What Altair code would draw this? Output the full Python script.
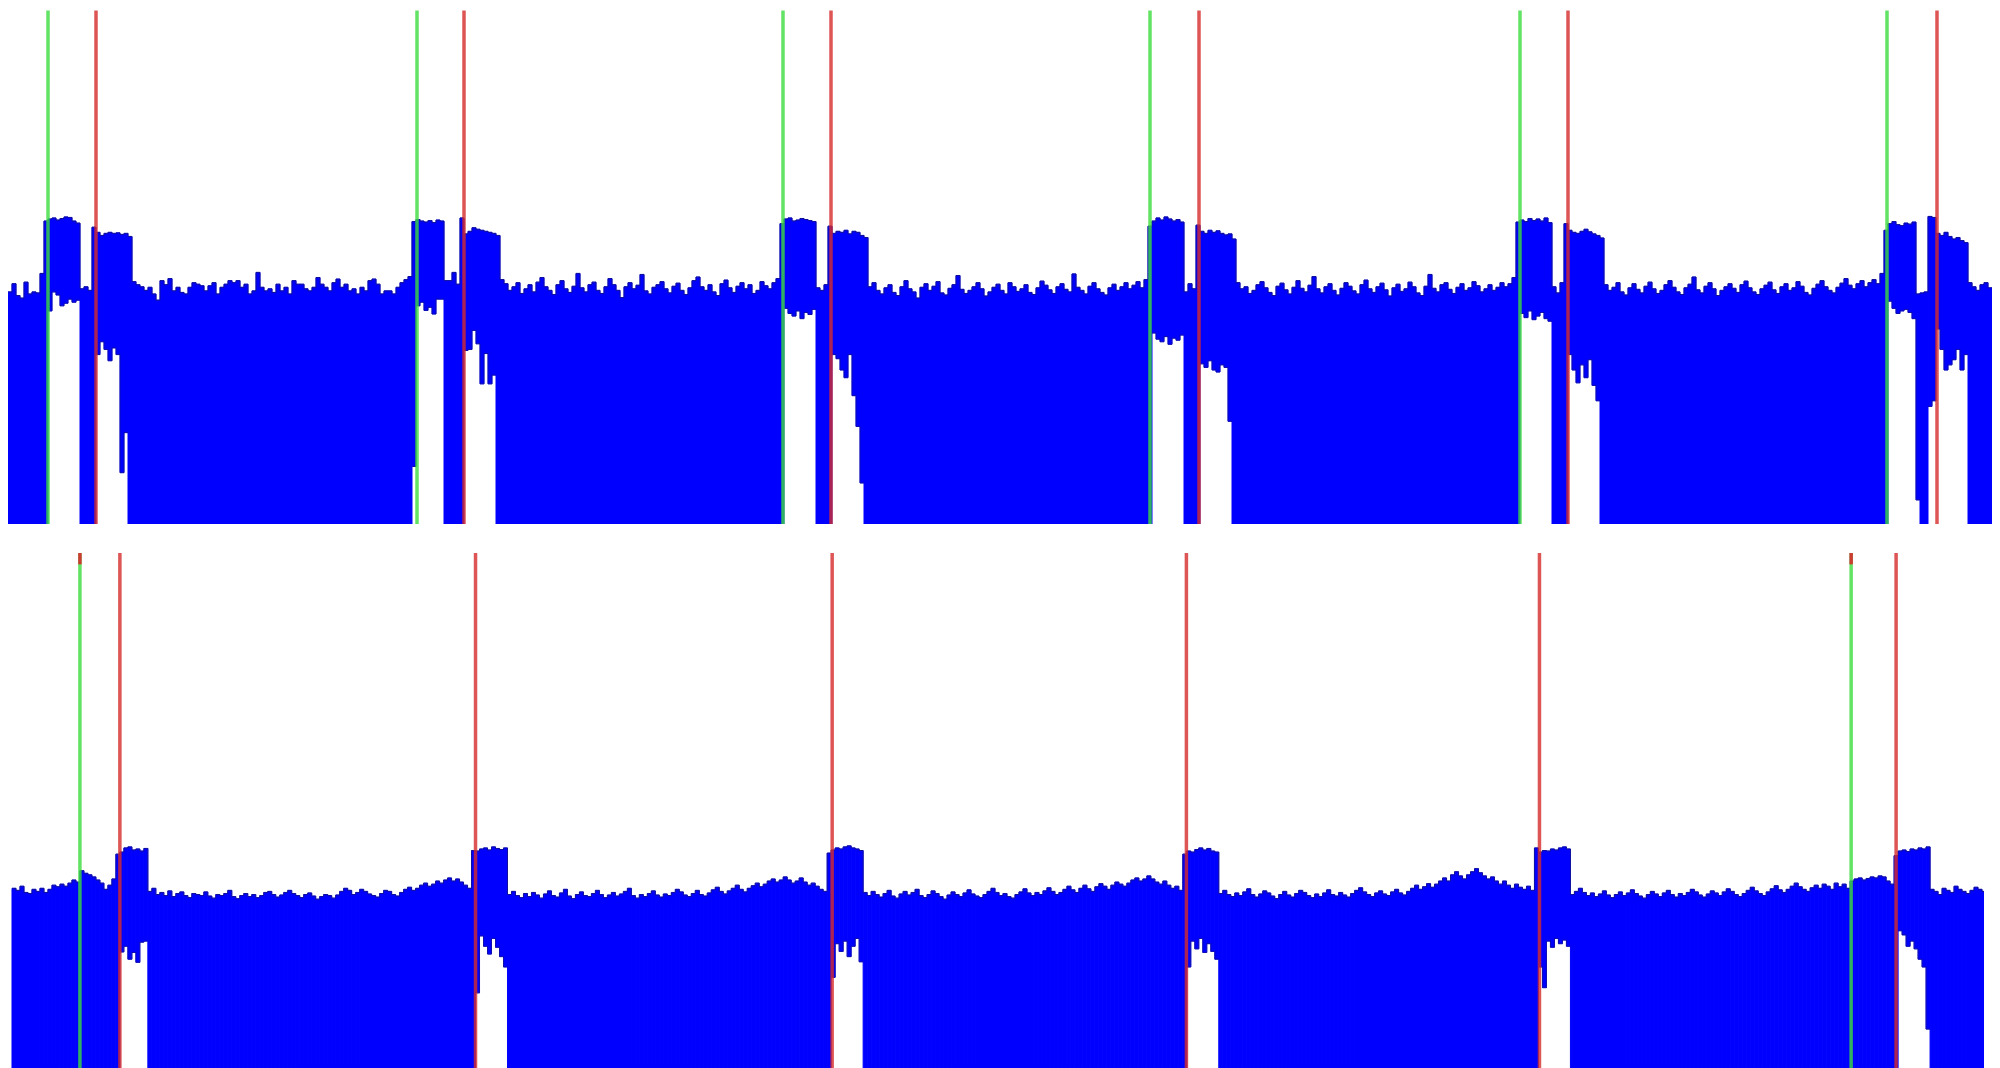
import altair as alt
import pandas as pd

# ---------------- TOP PANEL (signal units 0..1000) ----------------
top_noise0 = [452, 468, 445, 440, 471, 448, 452, 450, 488]
top_noise1 = [472, 466, 462, 455, 461, 448, 436, 474, 466, 478,
              454, 461, 451, 448, 461, 470, 467, 464, 454, 464,
              470, 448, 461, 467, 474, 470, 474, 461, 467, 448,
              454, 490, 461, 454, 458, 451, 467, 454, 461, 448,
              474, 467, 467, 458, 454, 461, 480, 467, 461, 454,
              470, 477, 461, 467, 454, 458, 448, 461, 454, 474,
              477, 467, 448, 454, 454, 448, 461, 470, 476, 482]
top_noise2 = [476, 468, 455, 462, 470, 449, 458, 466, 452, 471,
              480, 462, 455, 447, 466, 474, 458, 451, 463, 488,
              460, 452, 466, 471, 455, 449, 462, 478, 466, 455,
              441, 462, 470, 458, 465, 486, 454, 448, 461, 466,
              472, 458, 450, 463, 469, 455, 447, 460, 474, 481,
              462, 455, 466, 452, 445, 468, 475, 460, 451, 463,
              470, 458, 466, 449, 455, 472, 464, 458, 470, 478]
top_noise3 = [462, 470, 455, 448, 460, 466, 451, 445, 462, 474,
              458, 452, 440, 461, 468, 455, 463, 472, 450, 446,
              459, 466, 484, 457, 449, 455, 462, 470, 458, 444,
              452, 461, 467, 455, 448, 470, 462, 453, 458, 466,
              451, 447, 460, 473, 465, 456, 449, 462, 468, 457,
              452, 487, 461, 455, 448, 463, 470, 458, 451, 446,
              460, 467, 455, 462, 470, 458, 465, 472, 460, 476]
top_noise4 = [470, 458, 462, 449, 455, 466, 472, 460, 451, 445,
              463, 469, 456, 448, 461, 474, 459, 452, 465, 482,
              458, 450, 462, 468, 455, 446, 459, 470, 463, 454,
              448, 466, 475, 458, 451, 462, 469, 456, 444, 460,
              467, 453, 458, 471, 462, 450, 445, 463, 486, 459,
              452, 466, 470, 457, 449, 461, 468, 455, 460, 472,
              464, 452, 458, 466, 455, 461, 470, 462, 468, 480]
top_noise5 = [466, 455, 461, 470, 452, 446, 460, 468, 457, 450,
              463, 471, 458, 449, 455, 466, 474, 461, 452, 447,
              460, 467, 481, 456, 450, 463, 470, 458, 445, 455,
              462, 468, 459, 451, 466, 473, 460, 452, 447, 458,
              465, 471, 456, 449, 462, 468, 455, 460, 472, 463,
              451, 446, 459, 467, 474, 462, 455, 450, 461, 469,
              478, 465, 458, 468, 474, 462, 470, 476, 468, 488]
top_noise6 = [462, 455, 466, 470, 460]

# transitions around each green/red pair: upper and lower envelope
top_t1_hi = [590, 594, 596, 592, 595, 598, 597, 590, 586, 458, 462, 455, 578,
             568, 562, 566, 568, 566, 567, 564, 566, 560]
top_t1_lo = [0, 415, 452, 446, 425, 430, 438, 432, 436, 0, 0, 0, 0,
             330, 355, 340, 318, 343, 330, 100, 178, 0]
top_t2_hi = [589, 593, 590, 588, 591, 587, 592, 590, 474, 474, 490, 467, 596,
             565, 570, 577, 574, 572, 570, 568, 566, 562]
top_t2_lo = [112, 425, 432, 416, 422, 409, 438, 438, 0, 0, 0, 0, 0,
             338, 340, 377, 351, 273, 332, 273, 290, 0]
top_t3_hi = [585, 594, 596, 590, 592, 595, 593, 591, 589, 460, 455, 466, 580,
             566, 570, 568, 572, 565, 570, 568, 562, 558]
top_t3_lo = [0, 420, 410, 405, 415, 400, 412, 408, 418, 0, 0, 0, 0,
             330, 322, 300, 285, 330, 250, 190, 80, 0]
top_t4_hi = [580, 590, 596, 592, 598, 594, 590, 593, 588, 452, 468, 458, 582,
             570, 566, 572, 568, 571, 566, 563, 565, 555]
top_t4_lo = [0, 372, 360, 355, 365, 350, 362, 358, 368, 0, 0, 0, 0,
             312, 305, 318, 300, 296, 310, 305, 200, 0]
top_t5_hi = [588, 592, 589, 595, 591, 594, 590, 596, 587, 462, 450, 470, 585,
             572, 568, 566, 570, 574, 569, 565, 562, 557]
top_t5_lo = [0, 410, 402, 415, 398, 405, 412, 400, 395, 0, 0, 0, 0,
             330, 300, 275, 310, 285, 320, 270, 240, 0]
top_t6_hi = [572, 585, 589, 583, 581, 586, 584, 588, 448, 450, 452, 599, 597,
             566, 562, 568, 560, 555, 558, 552, 548, 470]
top_t6_lo = [0, 434, 420, 410, 415, 418, 412, 400, 47, 0, 0, 229, 240,
             380, 340, 300, 310, 320, 340, 300, 330, 0]

top_green = [10, 102.25, 193.75, 285.5, 378, 469.75]
top_red = [22, 114, 205.75, 297.75, 390, 482.25]

# ---------------- BOTTOM PANEL ----------------
bot_noise0 = [352, 348, 356, 344, 342, 350, 346, 352, 344, 350, 358, 355, 360]
bot_noise1 = [346, 352, 340, 344, 338, 347, 336, 342, 345, 338,
              334, 342, 340, 338, 345, 337, 333, 340, 338, 342,
              348, 336, 332, 338, 342, 336, 340, 334, 338, 344,
              346, 340, 335, 339, 344, 348, 342, 338, 334, 340,
              343, 337, 331, 336, 340, 338, 333, 339, 346, 352,
              348, 340, 344, 350, 346, 341, 338, 335, 342, 348,
              346, 340, 337, 344, 350, 354, 348, 352, 358, 362,
              356, 360, 366, 362, 368, 372, 366, 370, 364, 358,
              352]
bot_noise2 = [340, 346, 338, 334, 342, 336, 344, 339, 333, 341,
              347, 338, 335, 343, 350, 337, 332, 340, 345, 338,
              336, 342, 348, 340, 334, 339, 344, 337, 341, 346,
              352, 338, 333, 340, 336, 342, 347, 339, 335, 341,
              338, 344, 350, 345, 339, 336, 342, 348, 340, 337,
              343, 349, 354, 346, 341, 347, 352, 358, 350, 345,
              352, 357, 362, 355, 360, 366, 370, 364, 368, 374,
              368, 362, 366, 372, 364, 358, 362, 356, 350, 346]
bot_noise3 = [344, 338, 346, 340, 335, 342, 348, 337, 333, 341,
              346, 339, 344, 350, 338, 334, 340, 347, 342, 336,
              331, 339, 345, 340, 336, 343, 349, 341, 337, 334,
              340, 346, 352, 344, 338, 342, 336, 333, 340, 345,
              351, 343, 338, 344, 340, 347, 353, 346, 340, 344,
              350, 356, 349, 344, 352, 358, 351, 346, 355, 361,
              356, 350, 358, 364, 360, 356, 362, 368, 372, 366,
              370, 376, 370, 364, 360, 366, 358, 352, 356, 348]
bot_noise4 = [342, 348, 340, 336, 343, 338, 345, 351, 340, 335,
              341, 347, 343, 337, 332, 340, 346, 339, 335, 342,
              348, 344, 338, 334, 341, 336, 343, 349, 340, 337,
              344, 339, 335, 342, 348, 353, 345, 340, 336, 343,
              347, 341, 338, 345, 350, 343, 339, 346, 352, 358,
              350, 355, 361, 354, 360, 366, 372, 366, 378, 384,
              376, 370, 378, 384, 390, 382, 376, 370, 374, 366,
              360, 366, 358, 352, 360, 354, 350, 356, 348]
bot_noise5 = [340, 346, 352, 344, 338, 343, 336, 341, 347, 339,
              334, 340, 345, 338, 343, 349, 342, 337, 333, 340,
              346, 341, 336, 343, 348, 340, 335, 342, 338, 344,
              350, 345, 339, 335, 341, 347, 343, 338, 345, 351,
              346, 340, 336, 342, 348, 354, 347, 342, 338, 345,
              351, 357, 349, 344, 350, 356, 362, 355, 350, 346,
              353, 358, 352, 360, 356, 350, 362, 355, 360, 352,
              366]
bot_noise6 = [350, 346, 340, 352, 348, 344, 356, 350, 346, 342, 348, 354, 350, 346]

bot_t1_hi = [356, 362, 368, 364, 386, 381, 378, 374, 368, 362, 350, 358, 370, 418,
             422, 430, 432, 426, 428, 424, 429]
bot_t1_lo = [0] * 14 + [229, 240, 215, 228, 209, 248, 250]
bot_t2_hi = [425, 424, 428, 430, 426, 432, 429, 427, 430]
bot_t2_lo = [0, 150, 260, 240, 225, 255, 238, 220, 200]
bot_t3_hi = [420, 426, 430, 428, 432, 434, 430, 428, 425]
bot_t3_lo = [0, 180, 245, 230, 250, 220, 240, 255, 210]
bot_t4_hi = [418, 424, 422, 427, 430, 426, 429, 424, 422]
bot_t4_lo = [0, 200, 250, 235, 255, 228, 245, 230, 215]
bot_t5_hi = [430, 422, 425, 424, 428, 426, 430, 432, 428]
bot_t5_lo = [0, 200, 160, 250, 238, 255, 245, 252, 240]
bot_t6_hi = [370, 372, 368, 371, 374, 372, 376, 374, 366, 360, 415,
             424, 426, 423, 428, 426, 430, 428, 432]
bot_t6_lo = [0] * 11 + [270, 262, 240, 250, 235, 215, 200, 80]

bot_green = [17, 460.25]
bot_red = [27, 116, 205.25, 293.9, 382.25, 471.5]

BLUE = "#0000ff"
EDGE = "#16167a"
GREEN = "#3cdc3c"
RED = "#d62a2a"


def assemble(noises, trans):
    hi, lo = [], []
    for i, n in enumerate(noises):
        hi += n
        lo += [0] * len(n)
        if i < len(trans):
            hi += trans[i][0]
            lo += trans[i][1]
    return hi, lo


def frames(hi, lo):
    bars, rows, lrows = [], [], []
    run = -1
    prev = False
    for i, (h, l) in enumerate(zip(hi, lo)):
        bars.append({"x": i, "x2": i + 1, "hi": h, "lo": l})
        rows.append({"x": i, "hi": h, "k": 2 * i})
        rows.append({"x": i + 1, "hi": h, "k": 2 * i + 1})
        if l > 0:
            if not prev:
                run += 1
            lrows.append({"x": i, "lo": l, "k": 2 * i, "run": run})
            lrows.append({"x": i + 1, "lo": l, "k": 2 * i + 1, "run": run})
        prev = l > 0
    return pd.DataFrame(bars), pd.DataFrame(rows), pd.DataFrame(lrows)


def panel(hi, lo, greens, reds, dom, w, h, cap=False):
    bdf, df, ldf = frames(hi, lo)
    xs = alt.Scale(domain=dom, nice=False, zero=False)
    ys = alt.Scale(domain=[0, 1000], nice=False, zero=True)
    X = alt.X("x:Q", scale=xs, axis=None)
    Yh = alt.Y("hi:Q", scale=ys, axis=None)
    bars = alt.Chart(bdf).mark_bar(color=BLUE, stroke=BLUE, strokeWidth=1, clip=True).encode(
        x=X, x2="x2:Q", y=Yh, y2="lo:Q")
    hline = alt.Chart(df).mark_line(color=EDGE, strokeWidth=1, opacity=0.75, clip=True).encode(
        x=X, y=Yh, order="k:Q")
    lline = alt.Chart(ldf).mark_line(color=EDGE, strokeWidth=1, opacity=0.6, clip=True).encode(
        x=X, y=alt.Y("lo:Q", scale=ys, axis=None), detail="run:N", order="k:Q")
    gdf = pd.DataFrame({"x": greens, "top": [1000] * len(greens), "cap": [978] * len(greens)})
    rdf = pd.DataFrame({"x": reds})
    g = alt.Chart(gdf).mark_rule(color=GREEN, strokeWidth=3.5, opacity=0.8).encode(x=X)
    r = alt.Chart(rdf).mark_rule(color=RED, strokeWidth=3.5, opacity=0.8).encode(x=X)
    layers = [bars, hline, lline, g, r]
    if cap:
        c = alt.Chart(gdf).mark_rule(color=RED, strokeWidth=3.5, opacity=0.9).encode(
            x=X, y=alt.Y("top:Q", scale=ys, axis=None), y2="cap:Q")
        layers.append(c)
    return alt.layer(*layers).properties(width=w, height=h)


top_hi, top_lo = assemble(
    [top_noise0, top_noise1, top_noise2, top_noise3, top_noise4, top_noise5, top_noise6],
    [(top_t1_hi, top_t1_lo), (top_t2_hi, top_t2_lo), (top_t3_hi, top_t3_lo),
     (top_t4_hi, top_t4_lo), (top_t5_hi, top_t5_lo), (top_t6_hi, top_t6_lo)])
bot_hi, bot_lo = assemble(
    [bot_noise0, bot_noise1, bot_noise2, bot_noise3, bot_noise4, bot_noise5, bot_noise6],
    [(bot_t1_hi, bot_t1_lo), (bot_t2_hi, bot_t2_lo), (bot_t3_hi, bot_t3_lo),
     (bot_t4_hi, bot_t4_lo), (bot_t5_hi, bot_t5_lo), (bot_t6_hi, bot_t6_lo)])

top = panel(top_hi, top_lo, top_green, top_red, [0, 496], 1986, 514)
bottom = panel(bot_hi, bot_lo, bot_green, bot_red, [-1, 493.5], 1978, 518, cap=True)

chart = alt.vconcat(top, bottom, spacing=25).resolve_scale(
    x="independent", y="independent").properties(padding=0).configure_view(strokeWidth=0)

chart.save("out.html", embed_options={"renderer": "svg", "actions": False})
